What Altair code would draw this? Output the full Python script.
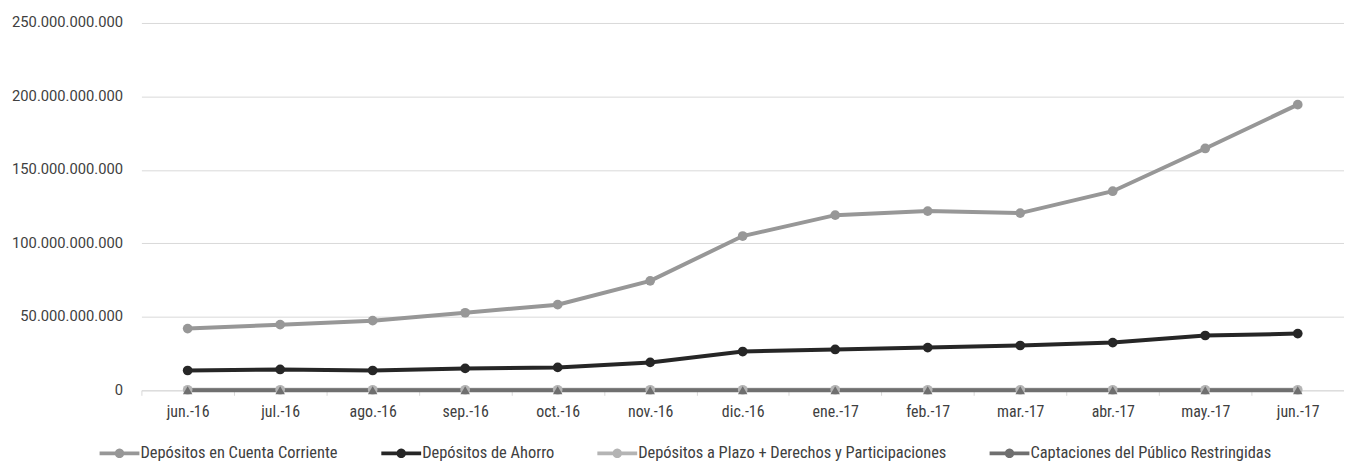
import math
import altair as alt
import pandas as pd

months = ["jun.-16", "jul.-16", "ago.-16", "sep.-16", "oct.-16", "nov.-16", "dic.-16",
          "ene.-17", "feb.-17", "mar.-17", "abr.-17", "may.-17", "jun.-17"]
series_names = ["Depósitos en Cuenta Corriente", "Depósitos de Ahorro",
                "Depósitos a Plazo + Derechos y Participaciones",
                "Captaciones del Público Restringidas"]
cuenta_corriente = [42.0e9, 44.7e9, 47.4e9, 52.8e9, 58.3e9, 74.5e9, 105.0e9,
                    119.2e9, 122.0e9, 120.6e9, 135.5e9, 164.6e9, 194.4e9]
ahorro = [13.5e9, 14.2e9, 13.5e9, 14.9e9, 15.6e9, 19.0e9, 26.4e9,
          27.8e9, 29.1e9, 30.5e9, 32.5e9, 37.3e9, 38.6e9]
plazo = [0.4e9] * 13
restringidas = [0.05e9] * 13
colors = ["#979797", "#262626", "#b4b4b4", "#6f6f6f"]

rows = []
for name, vals in zip(series_names, [cuenta_corriente, ahorro, plazo, restringidas]):
    for m, v in zip(months, vals):
        rows.append({"mes": m, "serie": name, "valor": v})
df = pd.DataFrame(rows)

COND = "Roboto Condensed, Noto Sans Condensed, DejaVu Sans Condensed, Liberation Sans Narrow, sans-serif"

# legend symbol: filled horizontal bar with a round marker (polygon circle)
r = 0.24
circle = " ".join(
    ("M" if i == 0 else "L") + f"{r*math.cos(2*math.pi*i/24):.4f},{r*math.sin(2*math.pi*i/24):.4f}"
    for i in range(24)) + "Z"
legend_path = "M-1,-0.095L1,-0.095L1,0.095L-1,0.095Z " + circle

x_enc = alt.X("mes:N", sort=months, title=None,
              axis=alt.Axis(labelAngle=0, domainColor="#d9d9d9", tickColor="#d9d9d9",
                            tickBand="extent", tickSize=5, labelFont=COND,
                            labelFontSize=16, labelColor="#404040", labelPadding=8,
                            domainWidth=1))
y_enc = alt.Y("valor:Q", title=None,
              scale=alt.Scale(domain=[0, 250e9], nice=False),
              axis=alt.Axis(values=[0, 50e9, 100e9, 150e9, 200e9, 250e9], format=",.0f",
                            domain=False, ticks=False, gridColor="#d9d9d9",
                            labelFont="Roboto", labelFontSize=14.8, labelColor="#404040",
                            labelPadding=19))
color_enc = alt.Color("serie:N", sort=series_names,
                      scale=alt.Scale(domain=series_names, range=colors),
                      legend=alt.Legend(orient="none", legendX=-42, legendY=412,
                                        direction="horizontal", columns=4, title=None,
                                        symbolType=legend_path, symbolSize=1600,
                                        symbolStrokeWidth=0, columnPadding=43,
                                        symbolOpacity=1,
                                        labelFont=COND, labelFontSize=16.5,
                                        labelColor="#404040", labelOffset=1,
                                        labelLimit=400))

base = alt.Chart(df)
lines = base.mark_line(strokeWidth=4).encode(
    x=x_enc, y=y_enc, color=color_enc, detail="serie:N")
circ = base.transform_filter(
    alt.datum.serie != series_names[3]).mark_circle(size=95, opacity=1).encode(
    x=x_enc, y=y_enc, color=color_enc)
tri = base.transform_filter(
    alt.datum.serie == series_names[3]).mark_point(shape="triangle-up", filled=True,
                                                   size=90, opacity=1).encode(
    x=x_enc, y=y_enc, color=color_enc)

chart = alt.layer(lines, circ, tri).properties(
    width=1208, height=369,
    autosize=alt.AutoSizeParams(type="none"),
    padding={"left": 134, "top": 14, "right": 0, "bottom": 80},
).configure(
    locale={"number": {"decimal": ",", "thousands": ".", "grouping": [3], "currency": ["", ""]}}
).configure_view(stroke=None)

chart.save("out.html", embed_options={"renderer": "svg", "actions": False})
